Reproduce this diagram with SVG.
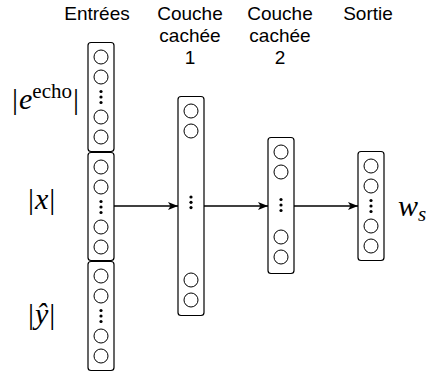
<svg xmlns="http://www.w3.org/2000/svg" width="426" height="374" viewBox="0 0 426 374">
  <style>
    .box { fill: #fff; stroke: #000; stroke-width: 1.2; }
    .unit { fill: none; stroke: #000; stroke-width: 1; }
    .dot { fill: #000; }
    .head { font-family: "Liberation Sans", Arial, sans-serif; font-size: 19px; fill: #000; text-anchor: middle; }
    .math { font-family: "Liberation Serif", "Times New Roman", serif; font-size: 30px; fill: #000; }
    .edge { stroke: #000; stroke-width: 1.3; fill: none; marker-end: url(#arrow); }
  </style>
  <defs>
    <marker id="arrow" viewBox="0 0 10 8" refX="10" refY="4" markerWidth="10" markerHeight="8" markerUnits="userSpaceOnUse" orient="auto">
      <path d="M0,0 L10,4 L0,8 L2.5,4 Z" fill="#000"/>
    </marker>
  </defs>

  <rect width="426" height="374" fill="#fff"/>

  <!-- column headings -->
  <g id="headings">
    <text class="head" x="97" y="19.5">Entrées</text>
    <text class="head" x="190" y="19.5">Couche</text>
    <text class="head" x="190" y="41.5">cachée</text>
    <text class="head" x="190" y="63.5">1</text>
    <text class="head" x="280" y="19.5">Couche</text>
    <text class="head" x="280" y="41.5">cachée</text>
    <text class="head" x="280" y="63.5">2</text>
    <text class="head" x="368" y="19.5">Sortie</text>
  </g>

  <!-- input block: echo -->
  <g id="input-echo">
    <rect class="box" x="88" y="42.5" width="26" height="109" rx="3"/>
    <circle class="unit" cx="101" cy="57" r="7"/>
    <circle class="unit" cx="101" cy="77" r="7"/>
    <circle class="dot" cx="101" cy="91.5" r="1.6"/>
    <circle class="dot" cx="101" cy="97" r="1.6"/>
    <circle class="dot" cx="101" cy="102.5" r="1.6"/>
    <circle class="unit" cx="101" cy="117" r="7"/>
    <circle class="unit" cx="101" cy="137" r="7"/>
    <text class="math" x="12" y="108.5">|<tspan font-style="italic" dx="1">e</tspan><tspan font-size="21" dy="-11">echo</tspan><tspan dy="11" dx="1">|</tspan></text>
  </g>

  <!-- input block: x -->
  <g id="input-x">
    <rect class="box" x="88" y="152.5" width="26" height="108" rx="3"/>
    <circle class="unit" cx="101" cy="167" r="7"/>
    <circle class="unit" cx="101" cy="187" r="7"/>
    <circle class="dot" cx="101" cy="201.5" r="1.6"/>
    <circle class="dot" cx="101" cy="207" r="1.6"/>
    <circle class="dot" cx="101" cy="212.5" r="1.6"/>
    <circle class="unit" cx="101" cy="227" r="7"/>
    <circle class="unit" cx="101" cy="247" r="7"/>
    <text class="math" x="28" y="208.5">|<tspan font-style="italic" dx="1">x</tspan><tspan dx="1">|</tspan></text>
  </g>

  <!-- input block: y hat -->
  <g id="input-yhat">
    <rect class="box" x="88" y="261.5" width="26" height="109" rx="3"/>
    <circle class="unit" cx="101" cy="276" r="7"/>
    <circle class="unit" cx="101" cy="296" r="7"/>
    <circle class="dot" cx="101" cy="310.5" r="1.6"/>
    <circle class="dot" cx="101" cy="316" r="1.6"/>
    <circle class="dot" cx="101" cy="321.5" r="1.6"/>
    <circle class="unit" cx="101" cy="336" r="7"/>
    <circle class="unit" cx="101" cy="356" r="7"/>
    <text class="math" x="28" y="324">|<tspan font-style="italic" dx="1">ŷ</tspan><tspan dx="1">|</tspan></text>
  </g>

  <!-- hidden layer 1 -->
  <g id="hidden-1">
    <rect class="box" x="178" y="96.5" width="26" height="219" rx="3"/>
    <circle class="unit" cx="191" cy="111" r="7"/>
    <circle class="unit" cx="191" cy="131" r="7"/>
    <circle class="dot" cx="191" cy="197" r="1.6"/>
    <circle class="dot" cx="191" cy="202.3" r="1.6"/>
    <circle class="dot" cx="191" cy="207.6" r="1.6"/>
    <circle class="unit" cx="191" cy="280" r="7"/>
    <circle class="unit" cx="191" cy="300" r="7"/>
  </g>

  <!-- hidden layer 2 -->
  <g id="hidden-2">
    <rect class="box" x="268" y="137.5" width="26" height="136" rx="3"/>
    <circle class="unit" cx="281" cy="152" r="7"/>
    <circle class="unit" cx="281" cy="172" r="7"/>
    <circle class="dot" cx="281" cy="199.5" r="1.6"/>
    <circle class="dot" cx="281" cy="205" r="1.6"/>
    <circle class="dot" cx="281" cy="210.5" r="1.6"/>
    <circle class="unit" cx="281" cy="237" r="7"/>
    <circle class="unit" cx="281" cy="257" r="7"/>
  </g>

  <!-- output layer -->
  <g id="output">
    <rect class="box" x="358" y="151.5" width="26" height="109" rx="3"/>
    <circle class="unit" cx="371" cy="166" r="7"/>
    <circle class="unit" cx="371" cy="186" r="7"/>
    <circle class="dot" cx="371" cy="200.5" r="1.6"/>
    <circle class="dot" cx="371" cy="206" r="1.6"/>
    <circle class="dot" cx="371" cy="211.5" r="1.6"/>
    <circle class="unit" cx="371" cy="226" r="7"/>
    <circle class="unit" cx="371" cy="246" r="7"/>
    <text class="math" x="398" y="216"><tspan font-style="italic">w</tspan><tspan font-style="italic" font-size="21" dy="5">s</tspan></text>
  </g>

  <!-- connectors -->
  <g id="connectors">
    <line class="edge" x1="114" y1="206" x2="178" y2="206"/>
    <line class="edge" x1="204" y1="206" x2="268" y2="206"/>
    <line class="edge" x1="294" y1="206" x2="358" y2="206"/>
  </g>
</svg>
